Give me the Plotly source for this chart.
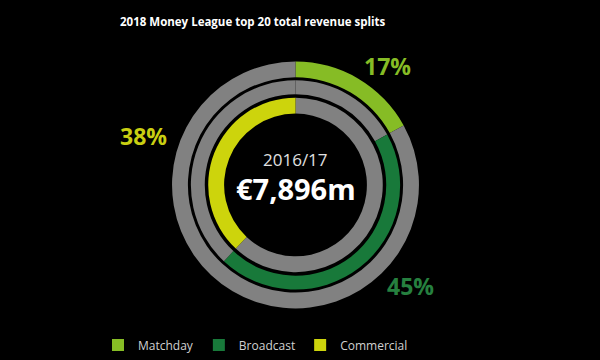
import plotly.graph_objects as go

# ---- data ----
categories = ["Matchday", "Broadcast", "Commercial"]
shares = [17, 45, 38]
season = "2016/17"
total_revenue = "€7,896m"
title_text = "2018 Money League top 20 total revenue splits"

# ---- style ----
colors = ["#86BC25", "#18793A", "#CDD40C"]
label_colors = ["#86BC25", "#26803F", "#C9CF12"]
track = "#818181"
W, H = 600, 360
cx, cy = 295.5, 186.5  # px from top-left
rings = [(124.5, 108.5), (105.5, 91.5), (88.0, 72.0)]  # (outer, inner) px
label_pos = [(387, 67), (410, 288), (143, 137)]

fig = go.Figure()

for i, (cat, s) in enumerate(zip(categories, shares)):
    before = sum(shares[:i])
    after = 100 - before - s
    vals = [before, s, after]
    cols = [track, colors[i], track]
    labs = [f"{cat}-pre", cat, f"{cat}-post"]
    R, r = rings[i]
    dom_x = [(cx - R) / W, (cx + R) / W]
    ycb = H - cy
    dom_y = [(ycb - R) / H, (ycb + R) / H]
    fig.add_trace(go.Pie(
        values=vals, labels=labs, sort=False, direction="clockwise",
        rotation=0, hole=r / R, marker=dict(colors=cols, line=dict(width=0)),
        textinfo="none", hoverinfo="skip", showlegend=False,
        domain=dict(x=dom_x, y=dom_y),
    ))

# legend entries
for cat, col in zip(categories, colors):
    fig.add_trace(go.Scatter(
        x=[None], y=[None], mode="markers", name=cat,
        marker=dict(symbol="square", size=12, color=col),
        showlegend=True,
    ))

P = dict(xref="paper", yref="paper", showarrow=False)
annotations = [
    dict(text=f"<b>{title_text}</b>", x=118 / W, y=1 - 22 / H, xanchor="left",
         yanchor="middle", font=dict(family="Open Sans", size=11.5, color="#ffffff"), **P),
    dict(text=season, x=cx / W, y=1 - 161 / H, xanchor="center", yanchor="middle",
         font=dict(family="Open Sans", size=17, color="#e0e0e0"), **P),
    dict(text=f"<b>{total_revenue}</b>", x=cx / W, y=1 - 190 / H, xanchor="center",
         yanchor="middle", font=dict(family="Open Sans", size=29, color="#ffffff"), **P),
]
for s, (lx, ly), lc in zip(shares, label_pos, label_colors):
    annotations.append(dict(
        text=f"<b>{s}%</b>", x=lx / W, y=1 - ly / H, xanchor="center",
        yanchor="middle", font=dict(family="Open Sans", size=23, color=lc), **P))

fig.update_layout(
    width=W, height=H,
    margin=dict(l=0, r=0, t=0, b=0),
    paper_bgcolor="#000000", plot_bgcolor="#000000",
    xaxis=dict(visible=False), yaxis=dict(visible=False),
    annotations=annotations,
    legend=dict(orientation="h", x=98 / W, y=1 - 348 / H, xanchor="left",
                yanchor="middle", bgcolor="rgba(0,0,0,0)",
                font=dict(family="Open Sans", size=12, color="#d0d0d0"),
                itemwidth=30, tracegroupgap=0),
)

fig.write_html("out.html", config={"displayModeBar": False},
               post_script="document.body.style.margin='0';document.body.style.background='#000';")
